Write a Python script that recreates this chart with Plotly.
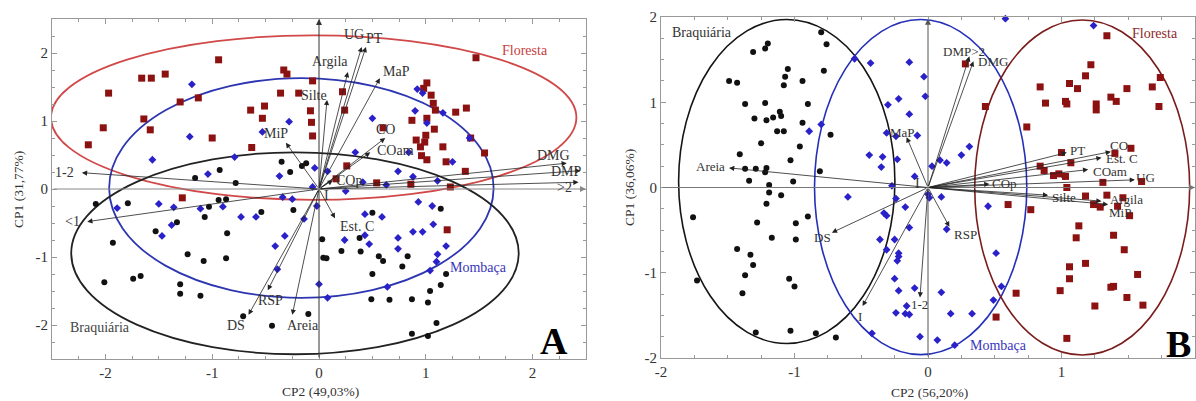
import plotly.graph_objects as go

# ---------------- Panel A data ----------------
a_flo_x = [-2.16, -2.02, -1.97, -1.66, -1.57, -1.44, -1.64, -1.58, -1.13, -1.30, -0.94, -1.00, -0.64, -0.51,
           -0.53, -0.63, -0.36, -0.33, -0.30, -0.19, -0.06, 0.22, -0.08, -0.07, 0.24, -0.06, 1.01, 0.98, 1.05,
           1.07, 1.09, 1.28, 1.38, 0.87, 1.01, 1.08, 1.00, 0.91, 0.99, 0.95, 1.16, 0.96, 1.01, 1.19, 1.37, 0.60,
           0.26, 0.16, 0.54, 0.86, 1.23, -1.28, 1.47, 1.42, 1.55, 1.20]
a_flo_y = [0.65, 0.90, 1.41, 1.63, 1.63, 1.69, 1.03, 0.87, 1.34, 1.28, 1.90, 0.75, 1.16, 1.22,
           1.04, 0.61, 1.41, 1.75, 1.69, 1.41, 1.59, 1.43, 1.15, 0.98, 1.16, 0.78, 1.56, 1.48, 1.38,
           1.26, 1.16, 1.13, 1.19, 1.01, 1.04, 0.88, 0.79, 0.72, 0.69, 0.62, 0.62, 0.49, 0.43, 0.40, 0.26, 0.90,
           0.34, 0.15, 0.09, 0.07, 0.03, -0.13, 1.93, 0.75, 0.53, -0.60]

a_mom_x = [-1.19, -1.21, -1.56, -0.79, -1.04, -0.28, -0.37, -0.53, 0.50, 0.34, 0.84, 0.90, 0.92, 0.97, 1.01,
           1.16, 1.41, 1.25, 0.74, 0.88, 0.41, 0.63, 0.25, 0.08, -0.04, -0.06, -0.25, -0.34, 0.93, 1.06, 1.07,
           -0.02, -0.90, -1.11, -0.73, -0.59, -0.14, 0.43, 0.59, 1.11, 0.43, 0.47, 0.24, -0.32, -0.41, 0.74,
           0.88, 0.97, 0.74, 1.19, 1.11, 1.10, 1.04, 0.64, 0.08, 0.00, -0.39, -1.89, -1.50, -1.36, -1.38, -1.47]
a_mom_y = [1.54, 0.77, 0.43, 0.47, 0.22, 0.99, 0.19, 0.84, 1.04, 0.54, 0.54, 1.15, 1.47, 1.41, 0.97,
           1.12, 0.75, 0.40, 0.26, 0.18, 0.10, 0.06, -0.03, 0.26, 0.31, 0.03, -0.15, -0.12, -0.19, -0.25, -0.52,
           -0.25, -0.26, -0.29, -0.41, -0.41, -0.44, -0.37, -0.41, 0.12, -0.68, -0.81, -0.75, -0.69, -0.84, -0.72,
           -0.63, -0.63, -0.88, -0.84, -0.96, -1.07, -1.20, -1.44, -1.60, -1.40, -1.18, -0.28, -0.22, -0.27, -0.53, -0.69]

a_bra_x = [-2.09, -1.79, -0.94, -0.87, -1.03, -1.07, -0.54, -0.24, -1.33, -1.53, -0.86, -1.93, -1.23, -1.08,
           -0.87, -2.01, -1.74, -1.67, -1.30, -1.30, -1.11, -0.71, -0.44, -1.16, -0.93, -0.78, -0.35, -0.27,
           -0.16, -0.12, 0.50, 1.14, 0.03, 0.04, 0.07, 0.21, 0.38, 0.39, 0.56, 0.60, 0.78, 0.83, 0.50, 1.19,
           1.14, 1.04, 0.49, 0.66, 0.87, 1.02, 1.10, 0.87, 1.02, -0.10]
a_bra_y = [-0.22, -0.21, -0.16, -0.15, -0.26, -0.41, -0.34, -0.31, -0.49, -0.62, -0.65, -0.79, -0.96, -1.06,
           -1.02, -1.37, -1.32, -1.28, -1.40, -1.54, -1.57, -1.87, -2.01, 0.16, 0.28, 0.09, 0.40, 0.25,
           0.34, 0.38, -0.35, -0.29, -0.74, -1.01, -1.02, -0.91, -0.72, -0.92, -0.99, -1.06, -1.14, -0.99, -1.25, -1.25,
           -1.41, -1.50, -1.62, -1.63, -1.62, -1.67, -1.97, -2.13, -2.16, -1.84]

a_var_names = ["UG", "PT", "Argila", "MaP", "Silte", "MiP", "CO", "COam", "COp", "DMG", "DMP", ">2",
               "1-2", "<1", "Est. C", "RSP", "DS", "Areia"]
a_var_x = [0.40, 0.44, 0.27, 0.57, 0.075, -0.31, 0.62, 0.48, 0.13, 2.32, 2.45, 2.43,
           -2.22, -2.17, 0.15, -0.48, -0.66, -0.25]
a_var_y = [2.09, 2.09, 1.72, 1.63, 1.31, 0.68, 0.75, 0.54, 0.13, 0.38, 0.27, 0.10,
           0.24, -0.48, -0.43, -1.49, -1.85, -1.85]
a_lab_x = [0.33, 0.52, 0.10, 0.73, -0.05, -0.40, 0.62, 0.72, 0.28, 2.20, 2.32, 2.30,
           -2.38, -2.31, 0.36, -0.45, -0.78, -0.15]
a_lab_y = [2.27, 2.22, 1.88, 1.73, 1.38, 0.82, 0.87, 0.56, 0.13, 0.50, 0.26, 0.02,
           0.24, -0.48, -0.55, -1.64, -2.00, -2.00]

# ---------------- Panel B data ----------------
b_bra_x = [-0.80, -0.76, -1.20, -1.22, -1.31, -0.78, -1.05, -1.07, -1.49, -1.43, -0.94, -1.08, -1.37, -1.22,
           -0.90, -1.11, -1.10, -1.16, -1.30, -1.21, -0.94, -1.13, -1.08, -0.73, -1.25, -0.96, -1.41, -1.03,
           -1.37, -1.29, -1.21, -1.22, -0.81, -1.34, -1.01, -1.19, -1.19, -1.10, -1.21, -1.76, -1.28, -0.99,
           -0.90, -1.17, -0.99, -1.43, -1.33, -1.31, -1.37, -1.73, -1.04, -1.00, -1.39, -1.29, -1.03, -0.84, -0.69]
b_bra_y = [1.82, 1.68, 1.69, 1.63, 1.59, 1.37, 1.39, 1.30, 1.25, 1.23, 1.25, 1.20, 0.98, 0.99,
           0.98, 0.89, 0.84, 0.82, 0.81, 0.79, 0.76, 0.66, 0.66, 0.62, 0.52, 0.48, 0.39, 0.32,
           0.22, 0.22, 0.23, 0.18, 0.19, 0.08, 0.07, 0.03, -0.06, -0.09, -0.19, -0.35, -0.41, -0.42,
           -0.34, -0.59, -0.61, -0.72, -0.79, -0.91, -1.03, -1.09, -1.07, -1.16, -1.24, -1.70, -1.68, -1.71, -1.76]

b_mom_x = [-0.55, -0.43, -0.14, -0.03, -0.02, -0.22, -0.30, -0.14, -0.80, -0.89, -0.31, -0.24, -0.08, 0.31,
           0.25, -0.44, -0.34, -0.23, -0.35, 0.09, 0.14, 0.03, -0.10, -0.27, -0.60, 0.00, 0.58, 1.24, 1.02,
           0.10, -0.24, 0.01, -0.17, -0.33, -0.31, -0.14, 0.14, -0.36, -0.25, -0.31, -0.22, -0.22, -0.23,
           0.45, 0.51, -0.25, -0.22, -0.10, 0.10, 0.55, 0.49, -0.16, -0.24, -0.17, -0.14, 0.17, 0.33, -0.42,
           -0.06, 0.07, 0.20]
b_mom_y = [1.51, 1.46, 1.47, 1.30, 1.07, 1.04, 0.97, 0.86, 0.74, 0.66, 0.64, 0.60, 0.61, 0.48,
           0.38, 0.38, 0.36, 0.33, 0.24, 0.32, 0.29, 0.25, 0.13, 0.02, -0.11, -0.08, 1.98, 1.90, 0.13,
           -0.11, -0.13, -0.12, -0.23, -0.30, -0.33, -0.47, -0.49, -0.61, -0.61, -0.73, -0.77, -0.81, -0.86,
           -0.22, -0.77, -1.07, -1.21, -1.18, -1.23, -1.16, -1.32, -1.39, -1.47, -1.48, -1.49, -1.48, -1.48, -1.71,
           -1.75, -1.79, -1.85]

b_flo_x = [1.34, 1.22, 1.18, 1.06, 1.12, 0.84, 1.74, 1.68, 1.49, 1.37, 1.41, 0.88, 1.03, 1.04, 1.26, 1.26,
           1.73, 0.43, 0.74, 0.28, 1.52, 1.40, 1.00, 1.07, 0.84, 0.87, 0.94, 0.98, 1.03, 1.31, 1.60, 1.04,
           1.18, 1.34, 1.46, 1.24, 1.29, 1.42, 1.51, 0.60, 0.77, 1.13, 1.11, 1.39, 1.47, 1.06, 1.18, 1.57,
           1.06, 0.99, 1.37, 1.39, 0.66, 1.49, 1.25, 1.61, 0.51, 1.04]
b_flo_y = [1.78, 1.44, 1.31, 1.22, 1.16, 1.18, 1.29, 1.18, 1.16, 1.06, 1.01, 0.99, 1.01, 0.98, 0.98, 0.91,
           0.95, 0.95, 0.71, 1.45, 0.46, 0.40, 0.41, 0.29, 0.25, 0.20, 0.14, 0.16, 0.13, 0.06, 0.07, 0.00,
           -0.10, -0.09, -0.12, -0.20, -0.23, -0.22, -0.33, -0.20, -0.26, -0.45, -0.59, -0.56, -0.73, -0.93, -0.89, -1.02,
           -1.07, -1.21, -1.17, -1.16, -1.24, -1.29, -1.39, -1.38, -1.52, -1.77]

b_var_names = ["DMP>2", "DMG", "MaP", "Areia", "PT", "CO", "Est. C", "COam", "UG", "COp", "Silte",
               "Argila", "MiP", "RSP", "1-2", "DS", "I"]
b_var_x = [0.31, 0.34, -0.16, -1.49, 1.04, 1.37, 1.30, 1.20, 1.55, 0.46, 0.90, 1.30, 1.35, 0.16, -0.06, -0.72, -0.49]
b_var_y = [1.54, 1.48, 0.59, 0.23, 0.41, 0.42, 0.35, 0.21, 0.09, 0.04, -0.09, -0.16, -0.20, -0.46, -1.29, -0.53, -1.39]
b_lab_x = [0.27, 0.49, -0.19, -1.63, 1.12, 1.43, 1.45, 1.36, 1.63, 0.57, 1.02, 1.49, 1.44, 0.28, -0.06, -0.79, -0.51]
b_lab_y = [1.60, 1.48, 0.64, 0.25, 0.43, 0.49, 0.345, 0.185, 0.12, 0.05, -0.12, -0.14, -0.29, -0.55, -1.37, -0.59, -1.51]

# group ellipses: name, centre x, centre y, half-width, half-height
a_groups = ["Floresta", "Mombaça", "Braquiária"]
a_ell_cx = [-0.05, -0.165, -0.225]
a_ell_cy = [1.05, 0.015, -0.945]
a_ell_rx = [2.46, 1.80, 2.095]
a_ell_ry = [1.21, 1.615, 1.485]
a_grp_lx = [1.93, 1.49, -2.05]
a_grp_ly = [2.04, -1.15, -2.03]

b_groups = ["Braquiária", "Mombaça", "Floresta"]
b_ell_cx = [-1.058, -0.055, 1.155]
b_ell_cy = [0.07, 0.005, 0.0]
b_ell_rx = [0.81, 0.795, 0.805]
b_ell_ry = [1.90, 1.965, 1.965]
b_grp_lx = [-1.69, 0.53, 1.70]
b_grp_ly = [1.82, -1.85, 1.81]

# ---------------- figure ----------------
FONT = "Liberation Serif"
W, H = 1196, 401
RED_SQ = "#8c1212"
BLUE = "#2a22c8"
BLACK = "#111111"

fig = go.Figure()

def pts(x, y, sym, size, color, xa, ya):
    fig.add_trace(go.Scatter(x=x, y=y, mode="markers", xaxis=xa, yaxis=ya, hoverinfo="skip",
                             marker=dict(symbol=sym, size=size, color=color, line=dict(width=0)),
                             showlegend=False, cliponaxis=False))

pts(a_flo_x, a_flo_y, "square", 7, RED_SQ, "x", "y")
pts(a_mom_x, a_mom_y, "diamond", 6, BLUE, "x", "y")
pts(a_bra_x, a_bra_y, "circle", 6, BLACK, "x", "y")
pts(b_bra_x, b_bra_y, "circle", 6, BLACK, "x2", "y2")
pts(b_mom_x, b_mom_y, "diamond", 6, BLUE, "x2", "y2")
pts(b_flo_x, b_flo_y, "square", 7, RED_SQ, "x2", "y2")

shapes = []
a_cols = ["#d04848", "#2d36b0", "#222222"]
for cx, cy, rx, ry, c in zip(a_ell_cx, a_ell_cy, a_ell_rx, a_ell_ry, a_cols):
    shapes.append(dict(type="circle", xref="x", yref="y", x0=cx - rx, x1=cx + rx, y0=cy - ry, y1=cy + ry,
                       line=dict(color=c, width=1.8), layer="below"))
b_cols = ["#151515", "#2430b8", "#7a1c1c"]
for cx, cy, rx, ry, c in zip(b_ell_cx, b_ell_cy, b_ell_rx, b_ell_ry, b_cols):
    shapes.append(dict(type="circle", xref="x2", yref="y2", x0=cx - rx, x1=cx + rx, y0=cy - ry, y1=cy + ry,
                       line=dict(color=c, width=1.6), layer="below"))

ann = []

def arrow(x0, y0, x1, y1, xr, yr, color="#222222", width=0.8, size=1.3):
    ann.append(dict(x=x1, y=y1, ax=x0, ay=y0, xref=xr, yref=yr, axref=xr, ayref=yr, text="",
                    showarrow=True, arrowhead=2, arrowsize=size, arrowwidth=width, arrowcolor=color,
                    standoff=0, startstandoff=0))

def label(x, y, t, xr, yr, size=14, color="#333333", **kw):
    ann.append(dict(x=x, y=y, xref=xr, yref=yr, text=t, showarrow=False,
                    font=dict(family=FONT, size=size, color=color), **kw))

# axis lines with arrows
arrow(-2.5, 0, 2.5, 0, "x", "y", color="#888888", width=1.0, size=1.2)
arrow(0, -2.5, 0, 2.5, "x", "y", color="#333333", width=1.0, size=1.2)
arrow(-2, 0, 2.0, 0, "x2", "y2", color="#777777", width=1.0, size=1.2)
arrow(0, -2, 0, 1.98, "x2", "y2", color="#555555", width=1.0, size=1.2)

for n, x, y, lx, ly in zip(a_var_names, a_var_x, a_var_y, a_lab_x, a_lab_y):
    arrow(0, 0, x, y, "x", "y")
    label(lx, ly, n, "x", "y")
label(0.07, -0.09, "I", "x", "y")

for n, x, y, lx, ly in zip(b_var_names, b_var_x, b_var_y, b_lab_x, b_lab_y):
    arrow(0, 0, x, y, "x2", "y2")
    label(lx, ly, n, "x2", "y2", size=13)
label(-0.08, 0.05, "I", "x2", "y2")

a_lab_cols = ["#c84040", "#3a36b8", "#444444"]
for g, lx, ly, c in zip(a_groups, a_grp_lx, a_grp_ly, a_lab_cols):
    label(lx, ly, g, "x", "y", size=14, color=c)
b_lab_cols = ["#333333", "#3a36c0", "#8a2a2a"]
for g, lx, ly, c in zip(b_groups, b_grp_lx, b_grp_ly, b_lab_cols):
    label(lx, ly, g, "x2", "y2", size=14, color=c)

def paper_label(px, py, t, size=13, angle=0, bold=False, color="#333333"):
    ann.append(dict(x=px / W, y=1 - py / H, xref="paper", yref="paper", text=("<b>%s</b>" % t) if bold else t,
                    showarrow=False, textangle=angle, xanchor="center", yanchor="middle",
                    font=dict(family=FONT, size=size, color=color)))

paper_label(320, 391, "CP2 (49,03%)", size=13.5)
paper_label(18, 190, "CP1 (31,77%)", size=13.5, angle=-90)
paper_label(929, 392, "CP2 (56,20%)", size=13.5)
paper_label(629, 188, "CP1 (36,06%)", size=13.5, angle=-90)
paper_label(554, 341, "A", size=38, bold=True, color="#000000")
paper_label(1178, 344, "B", size=38, bold=True, color="#000000")

tick_vals = [-2, -1, 0, 1, 2]
tick_text = ["-2", "-1", "0", "1", "2"]

def axis(domain, rng, anchor):
    return dict(domain=domain, range=rng, anchor=anchor, showgrid=False, zeroline=False,
                showline=True, linecolor="#999999", linewidth=1, mirror="ticks",
                ticks="inside", ticklen=5, tickcolor="#999999",
                tickvals=tick_vals, ticktext=tick_text, automargin=False,
                tickfont=dict(family=FONT, size=15, color="#333333"),
                minor=dict(ticks="inside", ticklen=3, dtick=0.25, tickcolor="#999999"))

fig.update_layout(
    width=W, height=H, margin=dict(l=0, r=0, t=0, b=0),
    paper_bgcolor="white", plot_bgcolor="white", showlegend=False,
    xaxis=axis([52 / W, 586 / W], [-2.5, 2.5], "y"),
    yaxis=axis([1 - 359 / H, 1 - 19 / H], [-2.5, 2.5], "x"),
    xaxis2=axis([661 / W, 1195 / W], [-2, 2], "y2"),
    yaxis2=axis([1 - 358 / H, 1 - 17 / H], [-2, 2], "x2"),
    shapes=shapes, annotations=ann,
)

fig.write_html("out.html")
